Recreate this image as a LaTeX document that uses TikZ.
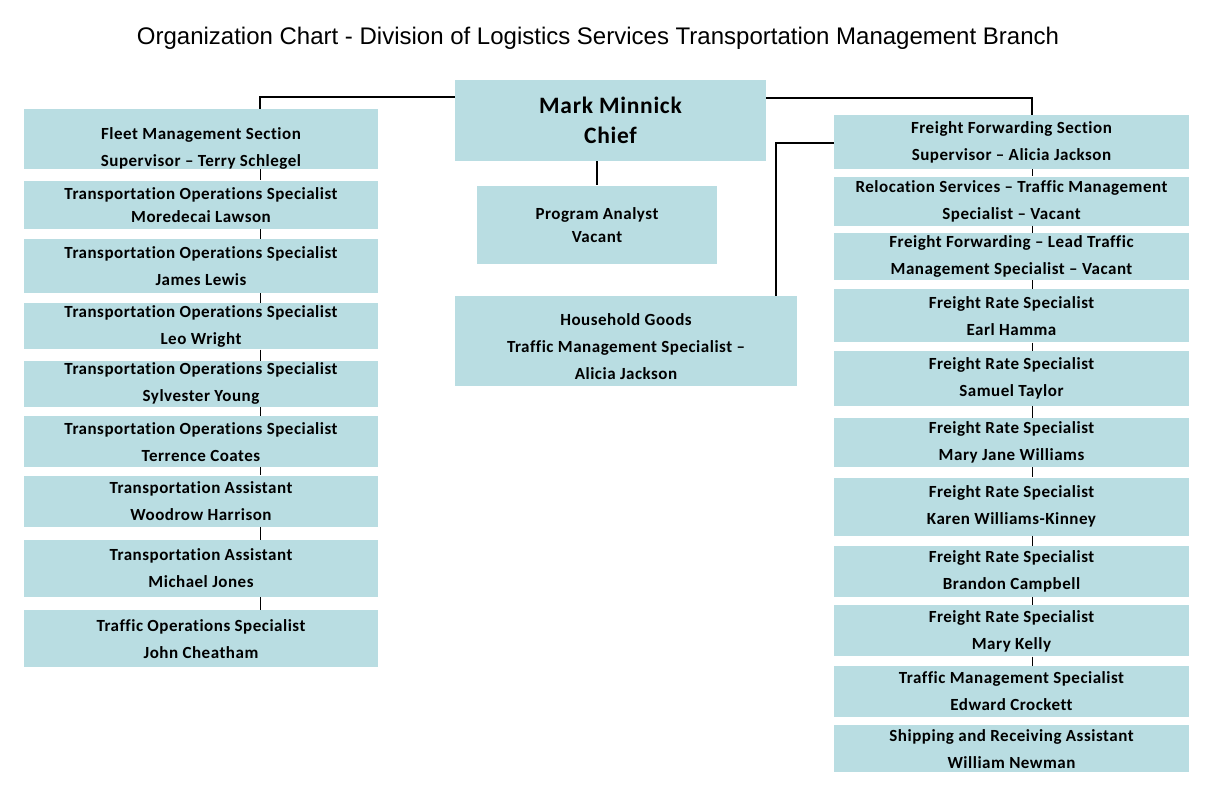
\documentclass[tikz,border=0pt]{standalone}
\usepackage{fontspec}
\setmainfont{Carlito}[LetterSpace=3, Ligatures=NoCommon]
\newfontfamily\titlefont{Liberation Sans}
\usetikzlibrary{positioning}
\definecolor{boxblue}{RGB}{185,221,226}
\newcommand{\dropline}[1]{\rule{0pt}{#1}}

\begin{document}
\begin{tikzpicture}[
  x=1pt, y=-1pt,
  box/.style={rectangle, fill=boxblue, minimum width=355pt, inner xsep=2pt, inner ysep=0pt, align=center, font=\bfseries\fontsize{17}{27}\selectfont},
  tight/.style={font=\bfseries\fontsize{17}{23}\selectfont},
  link/.style={draw, line width=1.4pt},
  tick/.style={draw, line width=1pt}
]
\useasboundingbox (0,0) rectangle (1224,792);

\node[font=\titlefont\fontsize{24}{28}\selectfont] (title) at (598,38) {Organization Chart - Division of Logistics Services Transportation Management Branch};

% ------------------------------------------------------------
% Chief and staff
% ------------------------------------------------------------

\node[box, minimum width=311pt, minimum height=81pt, anchor=north, font=\bfseries\fontsize{23.5}{30}\selectfont] (chief) at (610.5,80) {Mark Minnick\\Chief};
\node[box, tight, minimum width=240pt, minimum height=78pt, below=24pt of chief, xshift=-13.5pt] (analyst) {Program Analyst\\Vacant};
\node[box, minimum width=342pt, minimum height=90pt, below=32pt of analyst, xshift=29pt] (household) {\dropline{24pt}Household Goods\\Traffic Management Specialist --\\Alicia Jackson};

% ------------------------------------------------------------
% Fleet management section
% ------------------------------------------------------------

\node[box, minimum width=354pt, minimum height=60pt, anchor=north] (fleet) at (201,109) {\dropline{30pt}Fleet Management Section\\Supervisor -- Terry Schlegel};
\node[box, tight, minimum width=354pt, minimum height=48pt, below=11pt of fleet] (lawson) {Transportation Operations Specialist\\Moredecai Lawson};
\node[box, minimum width=354pt, minimum height=54pt, below=10pt of lawson] (lewis) {Transportation Operations Specialist\\James Lewis};
\node[box, minimum width=354pt, minimum height=46pt, below=10pt of lewis] (wright) {Transportation Operations Specialist\\Leo Wright};
\node[box, minimum width=354pt, minimum height=46pt, below=11pt of wright] (young) {Transportation Operations Specialist\\Sylvester Young};
\node[box, minimum width=354pt, minimum height=51pt, below=9pt of young] (coates) {Transportation Operations Specialist\\Terrence Coates};
\node[box, minimum width=354pt, minimum height=51pt, below=8pt of coates] (harrison) {Transportation Assistant\\Woodrow Harrison};
\node[box, minimum width=354pt, minimum height=57pt, below=13pt of harrison] (jones) {Transportation Assistant\\Michael Jones};
\node[box, minimum width=354pt, minimum height=57pt, below=13pt of jones] (cheatham) {Traffic Operations Specialist\\John Cheatham};

% ------------------------------------------------------------
% Freight forwarding section
% ------------------------------------------------------------

\node[box, minimum height=54pt, anchor=north] (ffs) at (1011.5,115) {Freight Forwarding Section\\Supervisor -- Alicia Jackson};
\node[box, minimum height=49pt, below=7pt of ffs] (reloc) {Relocation Services -- Traffic Management\\Specialist -- Vacant};
\node[box, minimum height=47pt, below=7pt of reloc] (fflead) {Freight Forwarding -- Lead Traffic\\Management Specialist -- Vacant};
\node[box, minimum height=53pt, below=9pt of fflead] (hamma) {Freight Rate Specialist\\Earl Hamma};
\node[box, minimum height=55pt, below=8pt of hamma] (taylor) {Freight Rate Specialist\\Samuel Taylor};
\node[box, minimum height=49pt, below=12pt of taylor] (mjw) {Freight Rate Specialist\\Mary Jane Williams};
\node[box, minimum height=58pt, below=10pt of mjw] (kinney) {Freight Rate Specialist\\Karen Williams-Kinney};
\node[box, minimum height=51pt, below=10pt of kinney] (campbell) {Freight Rate Specialist\\Brandon Campbell};
\node[box, minimum height=51pt, below=8pt of campbell] (kelly) {Freight Rate Specialist\\Mary Kelly};
\node[box, minimum height=51pt, below=9pt of kelly] (crockett) {Traffic Management Specialist\\Edward Crockett};
\node[box, minimum height=47pt, below=8pt of crockett] (newman) {Shipping and Receiving Assistant\\William Newman};

% ------------------------------------------------------------
% Connectors
% ------------------------------------------------------------

\coordinate (spineL) at (260,97);
\coordinate (spineR) at (1032,98);
\coordinate (hhgturn) at (776,143);

\draw[link] (chief.west |- spineL) -- (spineL) -- (fleet.north -| spineL);
\draw[link] (chief.east |- spineR) -- (spineR) -- (ffs.north -| spineR);
\draw[link] (chief.south -| analyst.north) -- (analyst.north);
\draw[link] (ffs.west |- hhgturn) -- (hhgturn) -- (household.north -| hhgturn);

\foreach \a/\b in {fleet/lawson, lawson/lewis, lewis/wright, wright/young, young/coates, coates/harrison, harrison/jones, jones/cheatham}
  \draw[tick] (\a.south -| spineL) -- (\b.north -| spineL);

\foreach \a/\b in {ffs/reloc, reloc/fflead, fflead/hamma, hamma/taylor, taylor/mjw, mjw/kinney, kinney/campbell, campbell/kelly, kelly/crockett}
  \draw[tick] (\a.south -| spineR) -- (\b.north -| spineR);

\end{tikzpicture}
\end{document}
